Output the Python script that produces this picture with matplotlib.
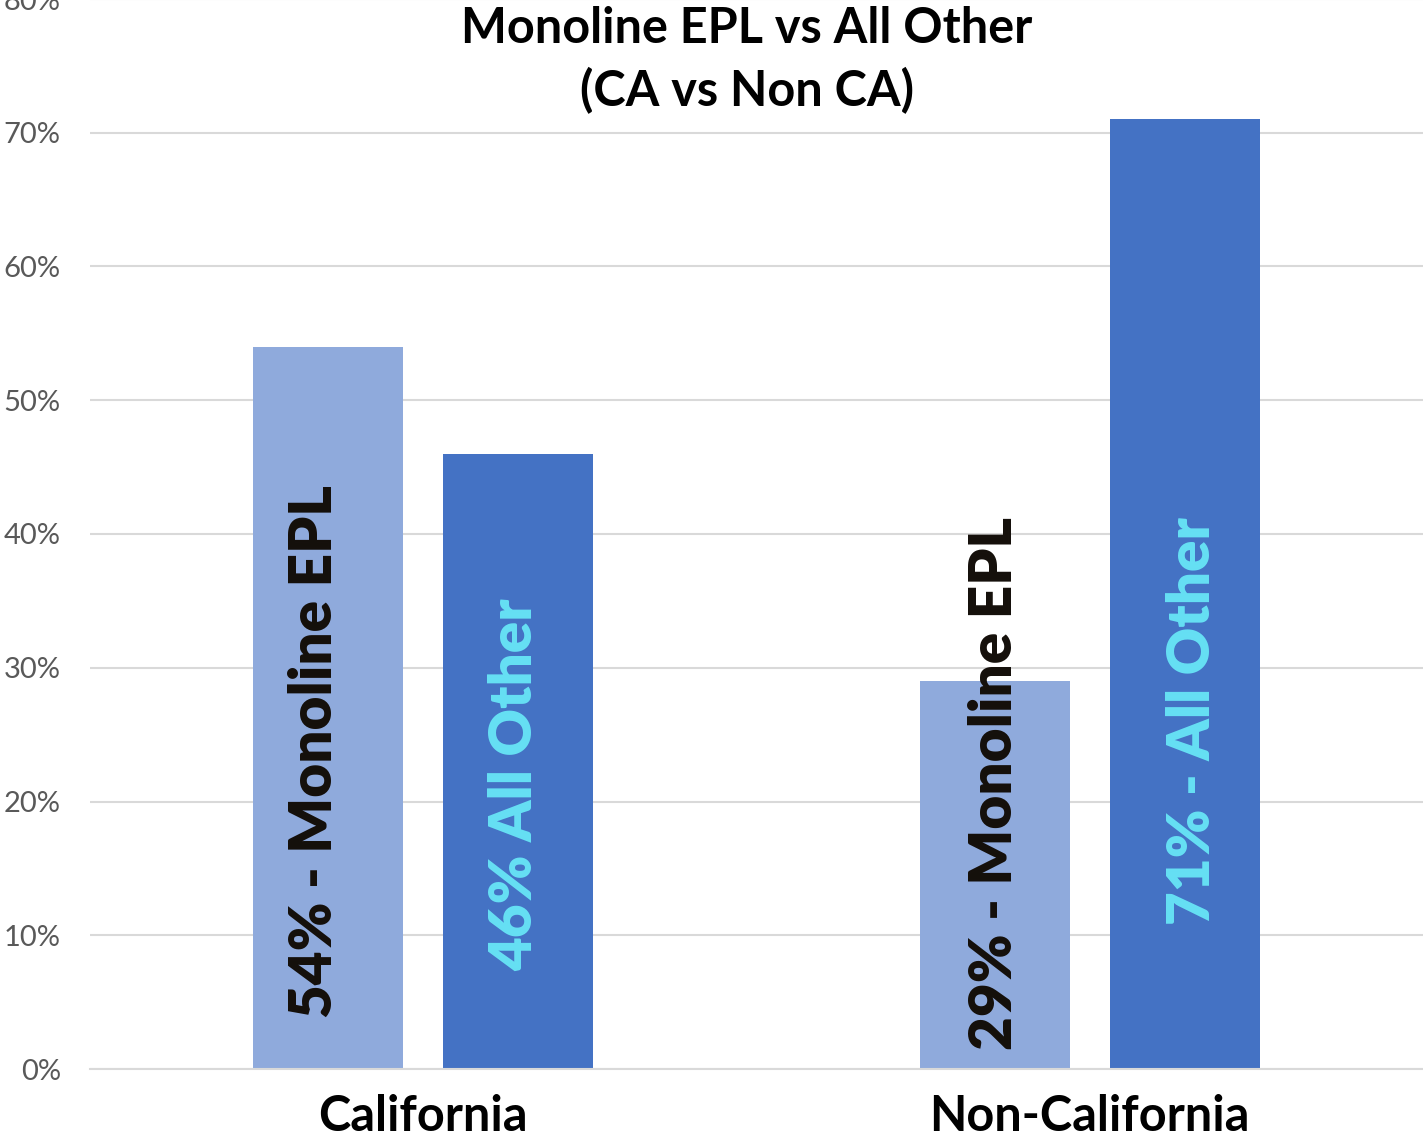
import numpy as np
import matplotlib.pyplot as plt
from matplotlib.ticker import PercentFormatter

categories = ["California", "Non-California"]
monoline = [0.54, 0.29]
all_other = [0.46, 0.71]
mono_labels = ["54% - Monoline EPL", "29% - Monoline EPL"]
other_labels = ["46% All Other", "71% - All Other"]
# where each rotated label starts (bottom of the text), in data units
mono_label_y = [0.038, 0.014]
other_label_y = [0.073, 0.108]
# small sideways nudges of the labels from the bar centres
mono_label_dx = [-0.02, 0.0]
other_label_dx = [-0.006, 0.012]

plt.rcParams["font.family"] = ["Lato", "DejaVu Sans"]

fig = plt.figure(figsize=(14.23, 11.39), dpi=100)
ax = fig.add_axes([90 / 1423, 70 / 1139, 1333 / 1423, 1070 / 1139])

x = np.arange(len(categories))
w = 0.225
off = 0.1425
ax.bar(x - off, monoline, w, color="#8FAADC", zorder=2)
ax.bar(x + off, all_other, w, color="#4472C4", zorder=2)

for i in range(len(categories)):
    ax.text(x[i] - off + mono_label_dx[i], mono_label_y[i], mono_labels[i],
            rotation=90, ha="center", va="bottom", fontsize=42,
            fontweight="heavy", color="#140F0A", zorder=3)
    ax.text(x[i] + off + other_label_dx[i], other_label_y[i], other_labels[i],
            rotation=90, ha="center", va="bottom", fontsize=42,
            fontweight="heavy", color="#66E0F4", zorder=3)

ax.set_xlim(-0.5, 1.5)
ax.set_ylim(0, 0.8)
ax.set_yticks(np.arange(0, 0.81, 0.1))
ax.yaxis.set_major_formatter(PercentFormatter(1.0, decimals=0))
ax.set_xticks(x)
ax.set_xticklabels(categories, fontsize=35, fontweight="bold", color="black")
ax.tick_params(axis="y", length=0, pad=21, labelsize=21, labelcolor="#595959")
ax.tick_params(axis="x", length=0, pad=18)
ax.grid(axis="y", color="#D9D9D9", linewidth=1.5, zorder=0)
for s in ["top", "right", "left"]:
    ax.spines[s].set_visible(False)
ax.spines["bottom"].set_color("#D9D9D9")
ax.spines["bottom"].set_linewidth(1.5)

fig.text(747 / 1423, 1 - 60 / 1139, "Monoline EPL vs All Other\n(CA vs Non CA)",
         ha="center", va="center", fontsize=35, fontweight="bold",
         linespacing=1.4)

fig.savefig("out.png", dpi=100)
